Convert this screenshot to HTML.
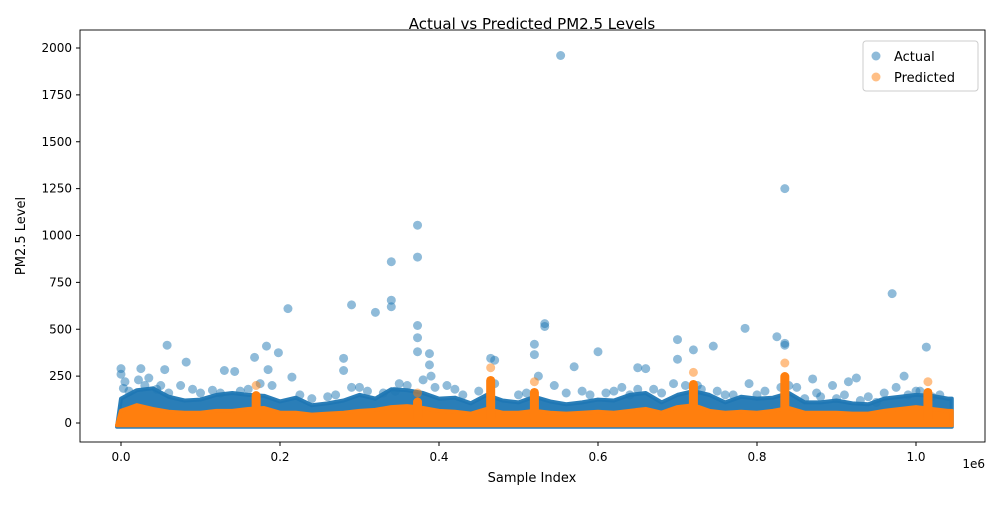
<!DOCTYPE html>
<html><head><meta charset="utf-8"><style>
body{margin:0;background:#fff;font-family:"Liberation Sans","DejaVu Sans",sans-serif}
svg text{font-family:"DejaVu Sans","Liberation Sans",sans-serif;fill:#000}
</style></head><body>
<svg id="chart" width="1000" height="500" viewBox="0 0 1000 500" xmlns="http://www.w3.org/2000/svg">
<rect width="1000" height="500" fill="#fff"/>
<text x="532" y="29" font-size="15" text-anchor="middle">Actual vs Predicted PM2.5 Levels</text>
<g id="bands"></g><g id="marks"></g><g id="pred"></g><g id="axes"></g>
<text x="532" y="482" font-size="13" text-anchor="middle">Sample Index</text>
<text x="985" y="468" font-size="12" text-anchor="end">1e6</text>
<text x="25" y="236" font-size="13" text-anchor="middle" transform="rotate(-90 25 236)">PM2.5 Level</text>
<g>
<rect x="863" y="41" width="115" height="50" rx="3" fill="#fff" fill-opacity="0.8" stroke="#ccc"/>
<circle cx="876" cy="56" r="4.5" fill="#1f77b4" fill-opacity="0.5"/>
<text x="894" y="61" font-size="13">Actual</text>
<circle cx="876" cy="77" r="4.5" fill="#ff7f0e" fill-opacity="0.5"/>
<text x="894" y="82" font-size="13">Predicted</text>
</g>
</svg>
<script>
// bin centers every 0.02e6
const binCenters=[0,0.02,0.04,0.06,0.08,0.1,0.12,0.14,0.16,0.18,0.2,0.22,0.24,0.26,0.28,0.3,0.32,0.34,0.36,0.38,0.4,0.42,0.44,0.46,0.48,0.5,0.52,0.54,0.56,0.58,0.6,0.62,0.64,0.66,0.68,0.7,0.72,0.74,0.76,0.78,0.8,0.82,0.84,0.86,0.88,0.9,0.92,0.94,0.96,0.98,1.0,1.02,1.04];
const actualBandTop=[130,175,185,140,120,125,150,160,150,145,115,135,95,105,120,150,130,180,175,160,130,135,105,150,120,110,140,115,100,110,125,120,150,160,110,150,170,150,110,140,130,135,160,110,110,120,105,100,130,140,150,145,130];
const predictedBandTop=[65,95,75,60,55,55,65,65,75,80,55,55,45,50,55,65,70,85,90,80,65,60,50,75,55,55,65,55,50,55,60,55,65,75,55,85,95,65,55,60,55,65,80,55,55,55,50,50,65,75,85,75,65];
const spikeX=[0.17,0.373,0.465,0.52,0.72,0.835,1.015];
const spikeY=[200,160,295,220,270,320,220];
const actualX=[0,0,0.003,0.025,0.035,0.055,0.058,0.082,0.075,0.13,0.143,0.168,0.183,0.185,0.198,0.21,0.215,0.28,0.28,0.29,0.32,0.34,0.34,0.34,0.373,0.373,0.373,0.373,0.373,0.388,0.388,0.465,0.47,0.52,0.52,0.533,0.533,0.553,0.57,0.6,0.65,0.66,0.7,0.7,0.72,0.745,0.785,0.825,0.835,0.835,0.835,0.87,0.895,0.915,0.925,0.97,0.985,1.013,
 0.01,0.03,0.045,0.06,0.1,0.115,0.15,0.16,0.24,0.26,0.27,0.3,0.31,0.33,0.35,0.36,0.39,0.41,0.42,0.45,0.5,0.51,0.56,0.58,0.59,0.62,0.63,0.64,0.67,0.68,0.71,0.73,0.75,0.76,0.79,0.8,0.84,0.86,0.88,0.9,0.93,0.95,0.96,0.99,1.0,1.02,
 0.005,0.022,0.05,0.09,0.125,0.175,0.19,0.225,0.29,0.345,0.38,0.395,0.43,0.47,0.525,0.545,0.61,0.65,0.695,0.725,0.77,0.81,0.83,0.85,0.875,0.91,0.94,0.975,1.005,1.03];
const actualY=[290,260,185,290,240,285,415,325,200,280,275,350,410,285,375,610,245,345,280,630,590,860,655,620,1055,885,520,455,380,370,310,345,335,420,365,530,515,1960,300,380,295,290,445,340,390,410,505,460,1250,425,415,235,200,220,240,690,250,405,
 170,200,180,160,160,175,170,180,130,140,150,190,170,160,210,200,250,200,180,170,150,160,160,170,150,170,190,150,180,160,200,180,170,150,210,150,200,130,140,130,120,110,160,150,170,140,
 220,230,200,180,160,210,200,150,190,170,230,190,150,210,250,200,160,180,210,200,150,170,190,190,160,150,140,190,170,150];
const yTicks=[0,250,500,750,1000,1250,1500,1750,2000];
const xTicks=[0,0.2,0.4,0.6,0.8,1.0];
const xTickLabels=["0.0","0.2","0.4","0.6","0.8","1.0"];
const NS="http://www.w3.org/2000/svg";
const xPix=v=>121+v*795, yPix=v=>423-v*0.1875;
function mk(tag,attrs,parent){const e=document.createElementNS(NS,tag);for(const k in attrs)e.setAttribute(k,attrs[k]);parent.appendChild(e);return e;}
const bands=document.getElementById('bands'),marks=document.getElementById('marks'),pred=document.getElementById('pred'),axes=document.getElementById('axes');
function band(tops,bottom,color,name,parent,opac){
  let d="M"+(xPix(0)-4)+","+yPix(bottom);
  tops.forEach((t,i)=>{d+=" L"+xPix(binCenters[i])+","+yPix(t);});
  d+=" L"+(xPix(1.04)+4)+","+yPix(tops[tops.length-1])+" L"+(xPix(1.04)+4)+","+yPix(bottom)+" Z";
  const p=mk('path',{d:d,fill:color,'fill-opacity':opac,stroke:color,'stroke-width':4,'stroke-linejoin':'round','stroke-opacity':opac},parent);
  
  
}
band(actualBandTop,-20,'#1f77b4','actual-dense-band',bands,0.95);
band(predictedBandTop,-12,'#ff7f0e','predicted-dense-band',pred,1);
actualX.forEach((x,i)=>{const c=mk('circle',{cx:xPix(x),cy:yPix(actualY[i]),r:4.5,fill:'#1f77b4','fill-opacity':0.5},marks);
  
  });
spikeX.forEach((x,i)=>{
  const col=mk('rect',{x:xPix(x)-4.5,y:yPix(spikeY[i]*0.85),width:9,height:yPix(0)-yPix(spikeY[i]*0.85),rx:4.5,fill:'#ff7f0e'},pred);
  
  
  const c=mk('circle',{cx:xPix(x),cy:yPix(spikeY[i]),r:4.5,fill:'#ff7f0e','fill-opacity':0.5},pred);
  
  
});
const frame=mk('rect',{x:80,y:30,width:905,height:412,fill:'none',stroke:'#000','stroke-width':0.9},axes);


yTicks.forEach(v=>{const y=yPix(v);mk('line',{x1:76,x2:80,y1:y,y2:y,stroke:'#000'},axes);
  const t=mk('text',{x:72,y:y+4,'font-size':12,'text-anchor':'end'},axes);t.textContent=v;
  
  });
xTicks.forEach((v,i)=>{const x=xPix(v);mk('line',{x1:x,x2:x,y1:442,y2:446,stroke:'#000'},axes);
  const t=mk('text',{x:x,y:461,'font-size':12,'text-anchor':'middle'},axes);t.textContent=xTickLabels[i];
  
  });
</script>
</body></html>
